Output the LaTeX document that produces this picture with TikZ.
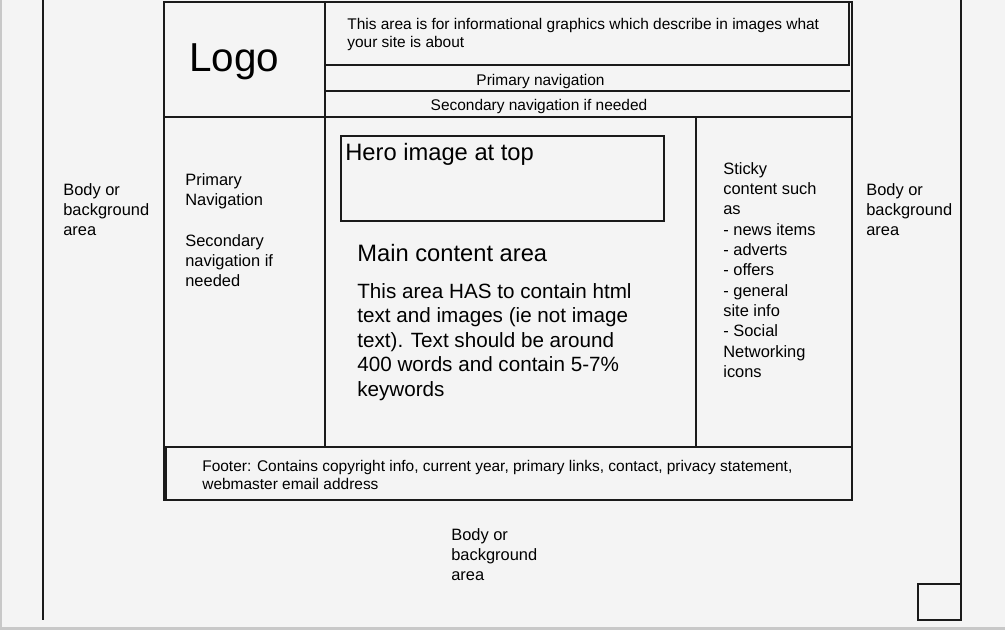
\documentclass[tikz,border=0pt]{standalone}
\usepackage{fontspec}
\setmainfont{Liberation Sans}
\definecolor{pagebg}{HTML}{F4F4F4}
\definecolor{edgegray}{HTML}{C8C8C8}
\definecolor{inkline}{HTML}{1A1A1A}
\tikzset{
    frame/.style={draw=inkline, line width=1.1pt},
    txt/.style={anchor=north west, inner sep=0pt, align=left, text=black},
    smalltxt/.style={txt, font=\fontsize{8.8}{10.2}\selectfont},
    bodytxt/.style={txt, font=\fontsize{9.35}{11.57}\selectfont},
    paratxt/.style={txt, font=\fontsize{11.75}{13.9}\selectfont},
    headtxt/.style={txt, font=\fontsize{13.5}{15}\selectfont},
}
\begin{document}
\begin{tikzpicture}[x=0.02cm, y=-0.02cm]
    \useasboundingbox (0,0) rectangle (1005,630);
    \fill[pagebg] (0,0) rectangle (1005,630);
    \draw[edgegray, line width=1.2pt] (0.5,-2) to (0.5,628.5) to (1007,628.5);
    \draw[frame] (43,0) to (43,620);
    \draw[frame] (961,0) to (961,620);
    \draw[frame] (918,584) rectangle (961,620);
    \draw[frame] (164,2) rectangle (852,500);
    \draw[frame] (325,2) to (325,447);
    \draw[frame] (849,2) to (849,65);
    \draw[frame] (325,65) to (850,65);
    \draw[frame] (325,91) to (850,91);
    \draw[frame] (164,117) to (852,117);
    \draw[frame] (696,117) to (696,447);
    \draw[frame] (164,447) to (852,447);
    \draw[frame] (166,447) to (166,499);
    \draw[frame] (341,136) rectangle (664,221);
    \node[anchor=base west, inner sep=0pt, font=\fontsize{23}{26}\selectfont] (logo) at (189,71) {Logo};
    \node[smalltxt] (infographic) at (347,18) {This area is for informational graphics which describe in images what\\your site is about};
    \node[anchor=base, inner sep=0pt, font=\fontsize{8.8}{10.2}\selectfont] (primnav) at (540.5,85) {Primary navigation};
    \node[anchor=base, inner sep=0pt, font=\fontsize{8.8}{10.2}\selectfont] (secnav) at (539,110) {Secondary navigation if needed};
    \node[bodytxt] (leftbody) at (63,183) {Body or\\background\\area};
    \node[bodytxt] (rightbody) at (866,183) {Body or\\background\\area};
    \node[bodytxt] (bottombody) at (451,528) {Body or\\background\\area};
    \node[bodytxt] (sidenav) at (185,173) {Primary\\Navigation\\[11.57pt]Secondary\\navigation if\\needed};
    \node[bodytxt] (sticky) at (723,162) {Sticky\\content such\\as\\- news items\\- adverts\\- offers\\- general\\site info\\- Social\\Networking\\icons};
    \node[headtxt] (hero) at (345,143) {Hero image at top};
    \node[headtxt] (maintitle) at (357,244) {Main content area};
    \node[paratxt] (maintext) at (357,283) {This area HAS to contain html\\text and images (ie not image\\text). Text should be around\\400 words and contain 5-7\%\\keywords};
    \node[smalltxt] (footer) at (202,460) {Footer: Contains copyright info, current year, primary links, contact, privacy statement,\\webmaster email address};
\end{tikzpicture}
\end{document}
